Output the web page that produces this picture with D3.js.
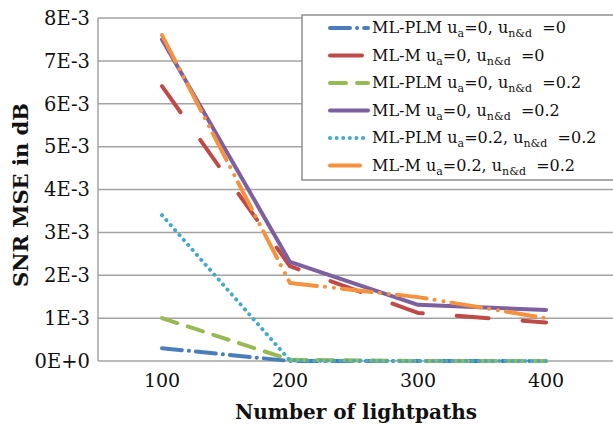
<!DOCTYPE html>
<html>
<head>
<meta charset="utf-8">
<script src="https://cdn.jsdelivr.net/npm/d3@7"></script>
<style>
  body { margin: 0; background: #fff; }
  svg { display: block; }
  text { font-family: "DejaVu Serif", "Liberation Serif", serif; fill: #111; }
</style>
</head>
<body>
<svg id="chart" width="613" height="432"></svg>
<script>
// data
var lightpaths = ["100", "200", "300", "400"];
var yTicks = [0, 1e-3, 2e-3, 3e-3, 4e-3, 5e-3, 6e-3, 7e-3, 8e-3];
var yTickLabels = ["0E+0", "1E-3", "2E-3", "3E-3", "4E-3", "5E-3", "6E-3", "7E-3", "8E-3"];

var methods = ["ML-PLM", "ML-M", "ML-PLM", "ML-M", "ML-PLM", "ML-M"];
var uaVals = ["0", "0", "0", "0", "0.2", "0.2"];
var undVals = ["0", "0", "0.2", "0.2", "0.2", "0.2"];

var plm00 = [0.30e-3, 0, 0, 0];
var m00 = [6.41e-3, 2.21e-3, 1.12e-3, 0.90e-3];
var plm002 = [1.0e-3, 0.03e-3, 0, 0];
var m002 = [7.5e-3, 2.31e-3, 1.31e-3, 1.19e-3];
var plm0202 = [3.4e-3, 0.01e-3, 0, 0];
var m0202 = [7.6e-3, 1.82e-3, 1.49e-3, 1.0e-3];
var seriesValues = [plm00, m00, plm002, m002, plm0202, m0202];

var colors = ["#4a7ebb", "#be4b48", "#98b954", "#7d60a0", "#46aac5", "#f59240"];
var dashes = ["20,7,0.1,7", "32,34", "16,11", null, "0.1,6.5", "30,8,0.1,9,0.1,8"];

var svg = d3.select("#chart");
var margin = {left: 98, top: 18, bottom: 361};

var x = d3.scaleBand().domain(lightpaths).range([margin.left, margin.left + 4 * 128]);
var y = d3.scaleLinear().domain([0, 8e-3]).range([margin.bottom, margin.top]);

// gridlines
svg.append("g").selectAll("line").data(yTicks).enter().append("line")
    .attr("x1", margin.left).attr("x2", 613)
    .attr("y1", d => y(d)).attr("y2", d => y(d))
    .attr("stroke", "#a3a3a3").attr("stroke-width", 1.5);

// y axis line + labels
svg.append("line").attr("x1", margin.left).attr("x2", margin.left)
    .attr("y1", margin.top).attr("y2", margin.bottom)
    .attr("stroke", "#a3a3a3").attr("stroke-width", 1.5);

var yAxis = svg.append("g").attr("transform", "translate(" + margin.left + ",0)")
    .call(d3.axisLeft(y).tickValues(yTicks).tickSize(0).tickPadding(8)
        .tickFormat((d, i) => yTickLabels[i]));
yAxis.select(".domain").remove();
yAxis.selectAll("text").style("font-size", "19.5px").attr("fill", "#111")
    .style("font-family", "DejaVu Serif");

// x axis labels
var xAxis = svg.append("g").attr("transform", "translate(0," + margin.bottom + ")")
    .call(d3.axisBottom(x).tickSize(0).tickPadding(13));
xAxis.select(".domain").remove();
xAxis.selectAll("text").style("font-size", "19px").attr("fill", "#111")
    .style("font-family", "DejaVu Serif");

// axis titles
svg.append("text").attr("x", 356).attr("y", 419).attr("text-anchor", "middle")
    .style("font-size", "20px").style("font-weight", "bold")
    .text("Number of lightpaths");
svg.append("text").attr("transform", "translate(28,195) rotate(-90)")
    .attr("text-anchor", "middle")
    .style("font-size", "21px").style("font-weight", "bold")
    .text("SNR MSE in dB");

// lines
var line = d3.line()
    .x((d, i) => x(lightpaths[i]) + x.bandwidth() / 2)
    .y(d => y(d));

var order = [0, 2, 4, 1, 3, 5];
order.forEach(function(k) {
    svg.append("path")
        .attr("d", line(seriesValues[k]))
        .attr("fill", "none")
        .attr("stroke", colors[k])
        .attr("stroke-width", 4)
        .attr("stroke-linecap", "round")
        .attr("stroke-linejoin", "round")
        .attr("stroke-dasharray", dashes[k]);
});

// legend
var legend = svg.append("g");
legend.append("rect").attr("x", 302).attr("y", 15).attr("width", 320).attr("height", 165)
    .attr("fill", "#fff").attr("stroke", "#8f8f8f").attr("stroke-width", 1.5);

methods.forEach(function(m, i) {
    var yy = 28 + i * 27.5;
    legend.append("line")
        .attr("x1", 330).attr("x2", 368).attr("y1", yy).attr("y2", yy)
        .attr("stroke", colors[i]).attr("stroke-width", 4)
        .attr("stroke-linecap", "round")
        .attr("stroke-dasharray", dashes[i]);
    var t = legend.append("text").attr("x", 372).attr("y", yy + 5)
        .style("font-size", "16px").style("white-space", "pre");
    t.append("tspan").text(m + " u");
    t.append("tspan").attr("dy", 4).style("font-size", "11px").text("a");
    t.append("tspan").attr("dy", -4).text("=" + uaVals[i] + ", u");
    t.append("tspan").attr("dy", 4).style("font-size", "11px").text("n&d");
    t.append("tspan").attr("dy", -4).text("  =" + undVals[i]);
});
</script>
</body>
</html>
